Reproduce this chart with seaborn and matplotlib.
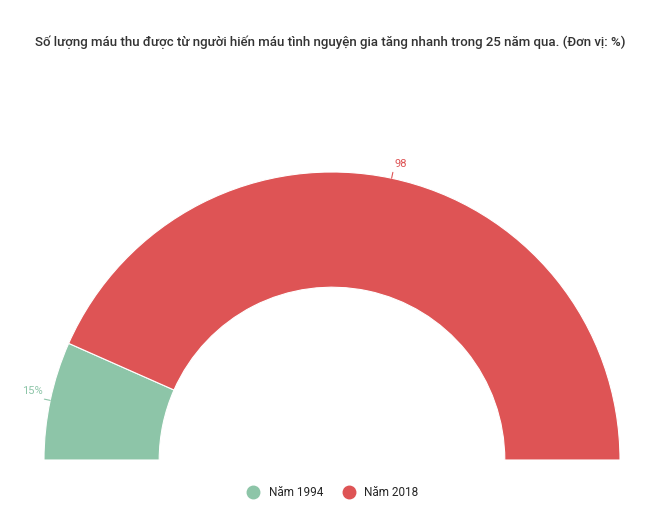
import matplotlib.pyplot as plt
import seaborn as sns
import numpy as np

labels = ["Năm 1994", "Năm 2018"]
values = [15, 98]
value_text = ["15%", "98"]
colors = ["#8dc5a8", "#de5455"]

sns.set_theme(style="white")
plt.rcParams['font.family'] = ['Roboto', 'DejaVu Sans']

fig = plt.figure(figsize=(6.6, 5.2), dpi=100)
ax = fig.add_axes([0, 0, 1, 1])

cx, cy, r = 332, 60, 288
total = sum(values)
wedges, _ = ax.pie(values + [total], colors=colors + ["none"], startangle=180,
                   counterclock=False, center=(cx, cy), radius=r,
                   wedgeprops=dict(width=r * 0.4, edgecolor="white", linewidth=0.8))
wedges[-1].set_visible(False)

# labels: place at mid-angle of each wedge
start = 180
for v, t, c in zip(values, value_text, colors):
    mid = np.deg2rad(start - v / total * 180 / 2)
    start -= v / total * 180
    x0, y0 = cx + r * np.cos(mid), cy + r * np.sin(mid)
    x1, y1 = cx + (r + 6) * np.cos(mid), cy + (r + 6) * np.sin(mid)
    ax.plot([x0, x1], [y0, y1], color=c, lw=0.8)
    ha = "right" if np.cos(mid) < 0 else "left"
    ax.text(x1 + (2 if ha == "left" else -2), y1 + 3, t, color=c, fontsize=8, ha=ha, va="bottom")

ax.set_xlim(0, 660)
ax.set_ylim(0, 520)
ax.set_aspect("equal")
ax.axis("off")

fig.text(0.5, 1 - 42 / 520, "Số lượng máu thu được từ người hiến máu tình nguyện gia tăng nhanh trong 25 năm qua. (Đơn vị: %)",
         ha="center", va="center", fontsize=9.5, fontweight="medium", color="#333333")

handles = [plt.Line2D([], [], marker="o", ls="", markersize=9, color=c) for c in colors]
fig.legend(handles, labels, loc="center", bbox_to_anchor=(0.5, 1 - 493 / 520), ncol=2,
           frameon=False, fontsize=8.5, handletextpad=0.3, columnspacing=1.2)

fig.savefig("out.png", dpi=100)
